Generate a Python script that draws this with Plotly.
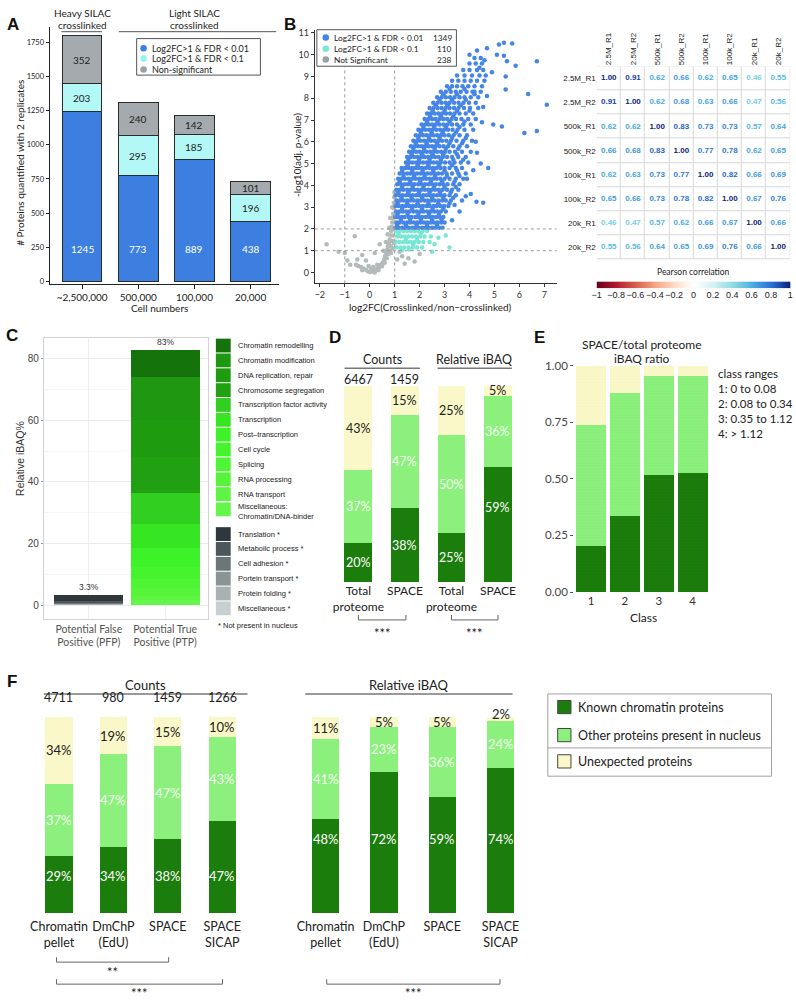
import plotly.graph_objects as go

W, H = 796, 1001
LATO = "Lato"
ARIAL = "Liberation Sans"


def PX(x):
    return x / W


def PY(y):
    return 1 - y / H


def XD(a, b):
    return [a / W, b / W]


def YD(top, bot):
    return [1 - bot / H, 1 - top / H]


# ======================= DATA =======================
# --- Panel A ---
A_cells = ["~2,500,000", "500,000", "100,000", "20,000"]
A_fdr001 = [1245, 773, 889, 438]
A_fdr01 = [203, 295, 185, 196]
A_nonsig = [352, 240, 142, 101]
A_series = ["Log2FC>1 &amp; FDR &lt; 0.01", "Log2FC>1 &amp; FDR &lt; 0.1", "Non-significant"]
A_yticks = [0, 250, 500, 750, 1000, 1250, 1500, 1750]

# --- Panel B volcano ---
B_series = ["Log2FC>1 &amp; FDR &lt; 0.01", "Log2FC>1 &amp; FDR &lt; 0.1", "Not Significant"]
B_counts = [1349, 110, 238]
B_xticks = [-2, -1, 0, 1, 2, 3, 4, 5, 6, 7]
B_yticks = [0, 1, 2, 3, 4, 5, 6, 7, 8, 9, 10, 11]

blue_rows = [
    (2.05, [1.03, 1.15, 1.3, 1.42, 1.55, 1.7, 1.82, 1.95, 2.1, 2.22, 2.36, 2.5, 2.63, 2.78, 2.92]),
    (2.18, [1.1, 1.45, 1.88, 2.3, 2.7]),
    (2.3, [1.08, 1.2, 1.35, 1.5, 1.62, 1.77, 1.9, 2.03, 2.17, 2.3, 2.45, 2.58, 2.72, 2.86, 3.0]),
    (2.43, [1.25, 1.62, 2.05, 2.5, 2.88]),
    (2.55, [1.02, 1.13, 1.27, 1.4, 1.56, 1.68, 1.83, 1.97, 2.1, 2.25, 2.38, 2.52, 2.66, 2.8, 2.95]),
    (2.68, [1.12, 1.52, 1.95, 2.38, 2.78]),
    (2.8, [1.06, 1.2, 1.33, 1.47, 1.6, 1.75, 1.88, 2.02, 2.15, 2.3, 2.44, 2.58, 2.7, 2.85, 3.05]),
    (2.93, [1.3, 1.7, 2.1, 2.52, 2.95]),
    (3.05, [1.03, 1.16, 1.3, 1.44, 1.58, 1.72, 1.85, 1.99, 2.13, 2.27, 2.4, 2.55, 2.68, 2.83, 2.98, 3.15]),
    (3.18, [1.12, 1.5, 1.92, 2.35, 2.75, 3.2]),
    (3.3, [1.08, 1.22, 1.36, 1.5, 1.63, 1.77, 1.91, 2.05, 2.2, 2.33, 2.47, 2.6, 2.75, 2.9, 3.05, 3.25, 3.7]),
    (3.43, [1.28, 1.68, 2.1, 2.5, 2.95, 3.35]),
    (3.55, [1.04, 1.18, 1.32, 1.46, 1.6, 1.73, 1.87, 2.0, 2.15, 2.28, 2.42, 2.56, 2.7, 2.85, 3.0, 3.2, 3.45]),
    (3.68, [1.15, 1.55, 1.98, 2.4, 2.82, 3.25]),
    (3.8, [1.07, 1.21, 1.35, 1.5, 1.64, 1.78, 1.92, 2.06, 2.2, 2.34, 2.48, 2.62, 2.77, 2.92, 3.1, 3.3, 3.55]),
    (3.93, [1.3, 1.72, 2.15, 2.58, 3.0, 3.45]),
    (4.05, [1.1, 1.25, 1.4, 1.53, 1.67, 1.8, 1.95, 2.08, 2.22, 2.36, 2.5, 2.65, 2.8, 2.95, 3.12, 3.35, 3.6]),
    (4.18, [1.2, 1.62, 2.02, 2.45, 2.9, 3.4]),
    (4.3, [1.14, 1.28, 1.42, 1.56, 1.7, 1.84, 1.98, 2.12, 2.26, 2.4, 2.54, 2.68, 2.83, 3.0, 3.2, 3.45, 3.75]),
    (4.43, [1.35, 1.78, 2.2, 2.62, 3.1, 3.6]),
    (4.55, [1.2, 1.35, 1.5, 1.63, 1.77, 1.9, 2.04, 2.18, 2.32, 2.46, 2.6, 2.75, 2.9, 3.08, 3.3, 3.55, 3.85]),
    (4.68, [1.3, 1.7, 2.12, 2.55, 3.0, 3.5]),
    (4.8, [1.28, 1.42, 1.56, 1.7, 1.84, 1.97, 2.1, 2.25, 2.4, 2.54, 2.68, 2.84, 3.0, 3.2, 3.45, 3.7]),
    (4.93, [1.52, 1.92, 2.35, 2.78, 3.3]),
    (5.05, [1.45, 1.58, 1.72, 1.86, 2.0, 2.14, 2.28, 2.42, 2.56, 2.7, 2.85, 3.02, 3.2, 3.4, 3.65, 3.95]),
    (5.18, [1.55, 1.98, 2.4, 2.85, 3.35, 3.75]),
    (5.3, [1.5, 1.64, 1.78, 1.92, 2.06, 2.2, 2.34, 2.48, 2.62, 2.77, 2.93, 3.1, 3.3, 3.55, 3.85]),
    (5.43, [1.68, 2.1, 2.52, 2.95, 3.5]),
    (5.55, [1.58, 1.72, 1.86, 2.0, 2.14, 2.28, 2.42, 2.56, 2.7, 2.86, 3.02, 3.2, 3.42, 3.7, 4.05]),
    (5.68, [1.75, 2.18, 2.6, 3.05, 3.55]),
    (5.8, [1.65, 1.8, 1.94, 2.08, 2.22, 2.36, 2.5, 2.64, 2.8, 2.96, 3.14, 3.35, 3.6, 3.9]),
    (5.93, [1.85, 2.28, 2.7, 3.2, 3.7]),
    (6.05, [1.75, 1.9, 2.04, 2.18, 2.32, 2.46, 2.6, 2.75, 2.9, 3.07, 3.25, 3.48, 3.75, 4.1]),
    (6.18, [1.95, 2.38, 2.8, 3.3, 3.85]),
    (6.3, [1.85, 2.0, 2.14, 2.28, 2.42, 2.56, 2.7, 2.85, 3.0, 3.17, 3.36, 3.6, 3.9]),
    (6.43, [2.05, 2.48, 2.92, 3.45]),
    (6.55, [1.95, 2.1, 2.24, 2.38, 2.52, 2.67, 2.82, 2.98, 3.14, 3.32, 3.52, 3.8, 4.15]),
    (6.68, [2.15, 2.58, 3.05, 3.6]),
    (6.8, [2.08, 2.22, 2.36, 2.5, 2.65, 2.8, 2.96, 3.12, 3.3, 3.5, 3.75, 4.05]),
    (6.93, [2.3, 2.72, 3.2, 3.8]),
    (7.05, [2.2, 2.35, 2.5, 2.64, 2.8, 2.95, 3.1, 3.28, 3.46, 3.68, 3.95, 4.25]),
    (7.18, [2.42, 2.85, 3.35]),
    (7.3, [2.3, 2.45, 2.6, 2.75, 2.9, 3.06, 3.22, 3.4, 3.6, 3.85, 4.15]),
    (7.43, [2.52, 3.0, 3.5, 4.0]),
    (7.55, [2.4, 2.56, 2.72, 2.88, 3.04, 3.2, 3.38, 3.56, 3.78, 4.02, 4.35]),
    (7.68, [2.65, 3.12, 3.65]),
    (7.8, [2.55, 2.72, 2.88, 3.04, 3.2, 3.38, 3.56, 3.76, 3.98, 4.25]),
    (7.93, [2.8, 3.3, 3.85]),
    (8.05, [2.7, 2.88, 3.05, 3.22, 3.4, 3.6, 3.8, 4.05, 4.35]),
    (8.18, [2.95, 3.5, 4.2]),
    (8.3, [2.85, 3.05, 3.25, 3.45, 3.65, 3.88, 4.12, 4.45]),
    (8.43, [3.2, 3.8]),
    (8.55, [3.1, 3.3, 3.5, 3.72, 3.95, 4.2, 4.5]),
    (8.8, [3.3, 3.55, 3.8, 4.05, 4.3, 4.6]),
    (9.05, [3.5, 3.8, 4.1, 4.4, 4.65]),
    (9.3, [3.75, 4.0, 4.3, 4.55]),
    (9.6, [4.0, 4.25, 4.5]),
    (9.85, [4.2, 4.45]),
    (10.2, [4.3]),
]
blue_extra = [(5.18, 10.47), (5.38, 10.55), (5.71, 10.52), (4.7, 10.3), (5.1, 10.0), (5.38, 9.95),
              (6.7, 9.7), (5.5, 9.7), (5.85, 9.5), (5.45, 9.0), (5.45, 8.4), (6.35, 8.2), (7.1, 7.7),
              (4.95, 6.8), (5.3, 6.7), (6.2, 6.4), (6.7, 6.5), (4.5, 6.9), (4.75, 4.8), (4.55, 3.2),
              (4.28, 3.25), (3.85, 3.5), (4.05, 3.6), (4.3, 5.5), (4.15, 4.7), (4.55, 7.6), (4.2, 8.3),
              (4.7, 8.1), (4.4, 9.4), (4.9, 9.2), (4.6, 9.75), (4.0, 10.0), (3.9, 4.3), (4.25, 6.0),
              (4.45, 5.0), (3.4, 3.1), (3.6, 2.8), (3.3, 2.4)]
cyan_rows = [
    (1.9, [1.05, 1.2, 1.35, 1.5, 1.65, 1.8, 1.95, 2.12, 2.3]),
    (1.65, [1.1, 1.25, 1.4, 1.55, 1.7, 1.85, 2.02, 2.2, 2.45]),
    (1.4, [1.05, 1.2, 1.35, 1.5, 1.65, 1.8, 1.97, 2.15, 2.4]),
    (1.15, [1.08, 1.23, 1.38, 1.55, 1.72, 1.9, 2.1]),
]
cyan_extra = [(2.75, 1.6), (3.05, 1.7), (3.2, 1.15), (2.5, 0.95), (2.6, 1.3), (1.3, 1.02), (1.6, 1.05),
              (1.15, 1.78), (1.45, 1.52), (1.75, 1.28), (2.05, 1.8), (1.9, 1.55)]
gray_pts = [(0.02, 0.02), (0.1, 0.05), (0.18, 0.08), (0.25, 0.12), (-0.08, 0.06), (-0.15, 0.12),
            (-0.25, 0.18), (-0.35, 0.25), (-0.45, 0.3), (-0.55, 0.35), (0.32, 0.18), (0.4, 0.25),
            (0.45, 0.35), (0.52, 0.45), (0.58, 0.6), (0.62, 0.75), (0.66, 0.9), (0.7, 1.05),
            (0.73, 1.2), (0.77, 1.35), (0.8, 1.5), (0.83, 1.7), (0.86, 1.9), (0.88, 2.1), (0.9, 2.3),
            (0.92, 2.5), (0.94, 2.7), (0.96, 2.95), (0.97, 3.2), (0.98, 3.45), (0.99, 3.7),
            (0.5, 0.3), (0.6, 0.45), (0.68, 0.65), (0.75, 0.85), (0.8, 1.0), (0.85, 1.2), (0.9, 1.45),
            (0.93, 1.7), (0.95, 2.0), (0.98, 2.3), (0.99, 2.6), (0.85, 0.9), (0.92, 1.1), (0.97, 1.35),
            (0.55, 1.0), (0.65, 1.4), (0.72, 1.75), (0.78, 2.05), (0.82, 2.5), (0.9, 3.0), (0.05, 0.2),
            (0.15, 0.25), (-0.05, 0.3), (0.3, 0.35), (0.35, 0.1), (0.2, 0.0), (-0.3, 0.1),
            (-1.73, 1.3), (-1.25, 0.95), (-1.0, 0.9), (-0.78, 0.35), (-0.6, 1.66), (-0.5, 0.6),
            (-0.9, 0.55), (-0.3, 0.8), (0.2, 0.9), (0.4, 1.3), (-0.15, 0.55), (1.1, 0.6), (1.3, 0.75),
            (1.55, 0.65), (1.8, 0.5), (1.4, 0.4), (2.0, 0.85), (1.2, 0.95)]

# --- Panel B correlation matrix ---
corr_labels = ["2.5M_R1", "2.5M_R2", "500k_R1", "500k_R2", "100k_R1", "100k_R2", "20k_R1", "20k_R2"]
corr = [
    [1.00, 0.91, 0.62, 0.66, 0.62, 0.65, 0.46, 0.55],
    [0.91, 1.00, 0.62, 0.68, 0.63, 0.66, 0.47, 0.56],
    [0.62, 0.62, 1.00, 0.83, 0.73, 0.73, 0.57, 0.64],
    [0.66, 0.68, 0.83, 1.00, 0.77, 0.78, 0.62, 0.65],
    [0.62, 0.63, 0.73, 0.77, 1.00, 0.82, 0.66, 0.69],
    [0.65, 0.66, 0.73, 0.78, 0.82, 1.00, 0.67, 0.76],
    [0.46, 0.47, 0.57, 0.62, 0.66, 0.67, 1.00, 0.66],
    [0.55, 0.56, 0.64, 0.65, 0.69, 0.76, 0.66, 1.00],
]
cbar_tickvals = [-1, -0.8, -0.6, -0.4, -0.2, 0, 0.2, 0.4, 0.6, 0.8, 1]
cbar_ticktext = ["−1", "−0.8", "−0.6", "−0.4", "−0.2", "0", "0.2", "0.4", "0.6", "0.8", "1"]

# --- Panel C ---
C_cats = ["Potential False<br>Positive (PFP)", "Potential True<br>Positive (PTP)"]
C_chrom_names = ["Chromatin remodelling", "Chromatin modification", "DNA replication, repair",
                 "Chromosome segregation", "Transcription factor activity", "Transcription",
                 "Post–transcription", "Cell cycle", "Splicing", "RNA processing", "RNA transport",
                 "Miscellaneous:<br>Chromatin/DNA-binder"]
C_chrom_ptp = [9.0, 14.0, 12.0, 11.5, 10.0, 8.0, 6.0, 4.0, 3.0, 2.5, 1.5, 1.5]
C_other_names = ["Translation *", "Metabolic process *", "Cell adhesion *", "Portein transport *",
                 "Protein folding *", "Miscellaneous *"]
C_other_pfp = [1.9, 0.6, 0.3, 0.2, 0.15, 0.15]
C_yticks = [0, 20, 40, 60, 80]

# --- Panel D ---
D_labels = ["Total<br>proteome", "SPACE", "Total<br>proteome", "SPACE"]
D_known = [20, 38, 25, 59]
D_other = [37, 47, 50, 36]
D_unexp = [43, 15, 25, 5]
D_counts = [6467, 1459]

# --- Panel E ---
E_class = ["1", "2", "3", "4"]
E_known = [0.204, 0.334, 0.518, 0.525]
E_other = [0.532, 0.543, 0.436, 0.429]
E_unexp = [0.264, 0.123, 0.046, 0.046]
E_ranges = ["class ranges", "1: 0 to 0.08", "2: 0.08 to 0.34", "3: 0.35 to 1.12", "4: &gt; 1.12"]

# --- Panel F ---
F_methods = ["Chromatin<br>pellet", "DmChP<br>(EdU)", "SPACE", "SPACE<br>SICAP"]
F_count_n = [4711, 980, 1459, 1266]
F_count_known = [29, 34, 38, 47]
F_count_other = [37, 47, 47, 43]
F_count_unexp = [34, 19, 15, 10]
F_ibaq_known = [48, 72, 59, 74]
F_ibaq_other = [41, 23, 36, 24]
F_ibaq_unexp = [11, 5, 5, 2]
F_legend = ["Known chromatin proteins", "Other proteins present in nucleus", "Unexpected proteins"]

# ======================= STYLE =======================
BLUE, CYAN, GRAY = "#3d7fe0", "#b2f8f6", "#a4aaae"
DOT_BLUE, DOT_CYAN, DOT_GRAY = "#4585e6", "#78e8d4", "#b3baba"
KNOWN, OTHER, UNEXP = "#1b7d0b", "#8cf07d", "#faf8c8"
C_chrom_colors = ["#15730b", "#1e9810", "#1f9b10", "#21a011", "#30cf20", "#37e622", "#3ef22a",
                  "#46f42e", "#4ef535", "#56f53b", "#5ef542", "#66f54a"]
C_other_colors = ["#2e383c", "#4b575b", "#6a7676", "#899494", "#a9b1b1", "#c9cfcf"]
corr_scale = [(0.0, "#67001f"), (0.1, "#b2182b"), (0.2, "#d6604d"), (0.3, "#f4a582"), (0.4, "#fddbc7"),
              (0.5, "#ffffff"), (0.6, "#d4f1f4"), (0.7, "#8fdbe3"), (0.8, "#4ab0e0"), (0.9, "#2a6fd6"),
              (1.0, "#0b1f7a")]


def hex2rgb(h):
    h = h.lstrip("#")
    return tuple(int(h[i:i + 2], 16) for i in (0, 2, 4))


def scale_color(t):
    for (t0, c0), (t1, c1) in zip(corr_scale[:-1], corr_scale[1:]):
        if t0 <= t <= t1:
            f = (t - t0) / (t1 - t0) if t1 > t0 else 0
            a, b = hex2rgb(c0), hex2rgb(c1)
            return "rgb(%d,%d,%d)" % tuple(round(a[k] + (b[k] - a[k]) * f) for k in range(3))
    return corr_scale[-1][1]


fig = go.Figure()
annotations = []
shapes = []


def ann(x, y, text, size=12, color="#222", family=LATO, xanchor="center", yanchor="middle", **kw):
    annotations.append(dict(x=PX(x), y=PY(y), xref="paper", yref="paper", text=text, showarrow=False,
                            font=dict(family=family, size=size, color=color), xanchor=xanchor,
                            yanchor=yanchor, **kw))


def dann(xref, yref, x, y, text, size=12, color="#222", family=LATO, **kw):
    annotations.append(dict(x=x, y=y, xref=xref, yref=yref, text=text, showarrow=False,
                            font=dict(family=family, size=size, color=color), **kw))


def line(x0, y0, x1, y1, color="#555", width=1):
    shapes.append(dict(type="line", xref="paper", yref="paper", x0=PX(x0), y0=PY(y0), x1=PX(x1), y1=PY(y1),
                       line=dict(color=color, width=width)))


def rect(x0, y0, x1, y1, fill="rgba(0,0,0,0)", lc="#444", lw=1):
    shapes.append(dict(type="rect", xref="paper", yref="paper", x0=PX(x0), y0=PY(y1), x1=PX(x1),
                       y1=PY(y0), fillcolor=fill, line=dict(color=lc, width=lw)))


def circle(cx, cy, r, fill):
    shapes.append(dict(type="circle", xref="paper", yref="paper", x0=PX(cx - r), x1=PX(cx + r),
                       y0=PY(cy + r), y1=PY(cy - r), fillcolor=fill, line=dict(width=0)))


def bracket(x1, x2, yl, h=5, color="#666"):
    shapes.append(dict(type="path", xref="paper", yref="paper",
                       path="M %f,%f L %f,%f L %f,%f L %f,%f" % (PX(x1), PY(yl - h), PX(x1), PY(yl),
                                                                 PX(x2), PY(yl), PX(x2), PY(yl - h)),
                       line=dict(color=color, width=1)))


# ======================= PANEL A =======================
for vals, col in zip([A_fdr001, A_fdr01, A_nonsig], [BLUE, CYAN, GRAY]):
    fig.add_trace(go.Bar(x=A_cells, y=vals, width=0.705, xaxis="x", yaxis="y",
                         marker=dict(color=col, line=dict(color="#2b2b2b", width=1)), showlegend=False))
for c, a, b, g in zip(A_cells, A_fdr001, A_fdr01, A_nonsig):
    dann("x", "y", c, 240, str(a), size=10, color="white")
    dann("x", "y", c, a + b / 2, str(b), size=10, color="#222")
    dann("x", "y", c, a + b + g / 2, str(g), size=10, color="#222")

ann(8.5, 18, "<b>A</b>", size=17, family=ARIAL, color="#111")
ann(78, 6.5, "Heavy SILAC", size=10)
ann(78, 18.5, "crosslinked", size=10)
ann(191, 6.5, "Light SILAC", size=10)
ann(191, 18.5, "crosslinked", size=10)
line(57, 25, 98, 25, color="#555")
line(115, 25, 274, 25, color="#555")
rect(133, 32, 258, 69, fill="white", lc="#555")
for cy, col, txt in zip([41.7, 52.3, 63.3], [BLUE, "#8ff5ee", "#9aa0a4"], A_series):
    circle(140, cy, 3.3, col)
    ann(146, cy, txt, size=9, xanchor="left")
ann(15, 158, "# Proteins quantified with 2 replicates", size=10, textangle=-90)
ann(156, 305, "Cell numbers", size=10)

# ======================= PANEL B volcano =======================
gray_x = [p[0] for p in gray_pts]
gray_y = [p[1] for p in gray_pts]
cyan_x = [x for y, xs in cyan_rows for x in xs] + [p[0] for p in cyan_extra]
cyan_y = [y for y, xs in cyan_rows for _ in xs] + [p[1] for p in cyan_extra]
blue_x = [x for y, xs in blue_rows for x in xs] + [p[0] for p in blue_extra]
blue_y = [y for y, xs in blue_rows for _ in xs] + [p[1] for p in blue_extra]
for xs, ys, col in [(gray_x, gray_y, DOT_GRAY), (cyan_x, cyan_y, DOT_CYAN), (blue_x, blue_y, DOT_BLUE)]:
    fig.add_trace(go.Scatter(x=xs, y=ys, mode="markers", xaxis="x2", yaxis="y2", showlegend=False,
                             marker=dict(size=4.5, color=col, line=dict(width=0))))
for xv in [-1, 1]:
    shapes.append(dict(type="line", xref="x2", yref="y2", x0=xv, x1=xv, y0=-0.5, y1=11.15,
                       line=dict(color="#9a9a9a", width=1, dash="dot")))
for yv in [1, 2]:
    shapes.append(dict(type="line", xref="x2", yref="y2", x0=-2.2, x1=7.5, y0=yv, y1=yv,
                       line=dict(color="#9a9a9a", width=1, dash="dot")))
ann(288, 18, "<b>B</b>", size=17, family=ARIAL, color="#111")
rect(315, 23, 456, 60, fill="white", lc="#555")
for cy, col, txt, n in zip([31, 42.3, 53.3], [DOT_BLUE, DOT_CYAN, "#9aa0a0"], B_series, B_counts):
    circle(324, cy, 3.3, col)
    ann(330.7, cy, txt, size=8.3, xanchor="left")
    ann(454, cy, str(n), size=8.3, xanchor="right")
ann(295, 150, "-log10(adj. p-value)", size=10, textangle=-90)
ann(430, 304, "log2FC(Crosslinked/non−crosslinked)", size=10)

# ======================= PANEL B matrix =======================
shapes.append(dict(type="rect", xref="x3", yref="y3", x0=-0.5, x1=7.5, y0=-0.5, y1=7.5,
                   fillcolor="#d8d8d8", line=dict(width=0), layer="below"))
fig.add_trace(go.Heatmap(z=corr, x=list(range(8)), y=list(range(8)), xaxis="x3", yaxis="y3",
                         colorscale=[[0, "white"], [1, "white"]], showscale=False, xgap=1, ygap=1,
                         hoverinfo="skip"))
mx, my, mt, mc = [], [], [], []
for i, row in enumerate(corr):
    for j, v in enumerate(row):
        mx.append(j)
        my.append(i)
        mt.append("<b>%.2f</b>" % v)
        mc.append(scale_color((v + 1) / 2))
fig.add_trace(go.Scatter(x=mx, y=my, text=mt, mode="text", xaxis="x3", yaxis="y3", showlegend=False,
                         textfont=dict(family=ARIAL, size=8, color=mc)))
grad = [i / 100 - 1 for i in range(201)]
fig.add_trace(go.Heatmap(z=[grad], x=grad, y=[0], xaxis="x4", yaxis="y4", showscale=False,
                         colorscale=[[t, c] for t, c in corr_scale], zmin=-1, zmax=1, hoverinfo="skip"))
ann(695, 268, "Pearson correlation", size=8.5)

# ======================= PANEL C =======================
for i in reversed(range(len(C_other_pfp))):
    fig.add_trace(go.Bar(x=[0, 1], y=[C_other_pfp[i], 0], width=0.9, xaxis="x5", yaxis="y5",
                         marker=dict(color=C_other_colors[i], line=dict(width=0)), showlegend=False))
for i in reversed(range(len(C_chrom_ptp))):
    fig.add_trace(go.Bar(x=[0, 1], y=[0, C_chrom_ptp[i]], width=0.9, xaxis="x5", yaxis="y5",
                         marker=dict(color=C_chrom_colors[i], line=dict(width=0)), showlegend=False))
tot_pfp = round(sum(C_other_pfp), 1)
tot_ptp = round(sum(C_chrom_ptp), 1)
dann("x5", "y5", 0, tot_pfp, "%g%%" % tot_pfp, size=8.5, family=ARIAL, color="#333", yanchor="bottom", yshift=1)
dann("x5", "y5", 1, tot_ptp, "%g%%" % tot_ptp, size=8.5, family=ARIAL, color="#333", yanchor="bottom", yshift=1)
ann(7, 333, "<b>C</b>", size=17, family=ARIAL, color="#111")
ann(15, 457, "Relative iBAQ%", size=10.5, family=ARIAL, color="#333", textangle=-90)
chrom_rows = [343 + 15.05 * i for i in range(11)] + [509]
for cy, col, name in zip(chrom_rows, C_chrom_colors, C_chrom_names):
    rect(213, cy - 7, 228, cy + 7, fill=col, lc=col, lw=0)
    ann(233, cy + (2 if "<br>" in name else 0), name, size=7.5, family=ARIAL, color="#1a1a1a",
        xanchor="left", align="left")
other_rows = [534 + 15.05 * i for i in range(6)]
for cy, col, name in zip(other_rows, C_other_colors, C_other_names):
    rect(213, cy - 7, 228, cy + 7, fill=col, lc=col, lw=0)
    ann(233, cy, name, size=7.5, family=ARIAL, color="#1a1a1a", xanchor="left")
ann(213, 627, "* Not present in nucleus", size=7.5, family=ARIAL, color="#1a1a1a", xanchor="left")


# ======================= stacked helper =======================
def stacked(xa, ya, xs, known, other, unexp, width, dark_fixed, size=12.5):
    for vals, col in zip([known, other, unexp], [KNOWN, OTHER, UNEXP]):
        fig.add_trace(go.Bar(x=xs, y=vals, width=width, xaxis=xa, yaxis=ya, showlegend=False,
                             marker=dict(color=col, line=dict(width=0))))
    for i, k, o, u in zip(xs, known, other, unexp):
        ky = dark_fixed if dark_fixed < 0.8 * k else k / 2
        dann(xa, ya, i, ky, "%d%%" % k, size=size, color="white")
        dann(xa, ya, i, k + o / 2, "%d%%" % o, size=size, color="#f4fff2")
        if u < 4:
            dann(xa, ya, i, k + o + u, "%d%%" % u, size=size, color="#222", yshift=3)
        else:
            dann(xa, ya, i, k + o + u / 2, "%d%%" % u, size=size, color="#222")


# ======================= PANEL D =======================
stacked("x6", "y6", [0, 1], D_known[:2], D_other[:2], D_unexp[:2], 0.6, 19, size=12.5)
stacked("x6", "y6", [2, 3], D_known[2:], D_other[2:], D_unexp[2:], 0.6, 38, size=12.5)
for i, n in enumerate(D_counts):
    annotations.append(dict(x=i, y=PY(377), xref="x6", yref="paper", text=str(n), showarrow=False,
                            font=dict(family=LATO, size=12.5, color="#222")))
ann(333, 335, "<b>D</b>", size=17, family=ARIAL, color="#111")
ann(381, 357, "Counts", size=12.5)
line(343, 366, 419, 366, color="#777", width=1.5)
ann(474, 357, "Relative iBAQ", size=12.5)
line(437, 366, 512, 366, color="#777", width=1.5)
bracket(357, 405, 621)
bracket(451, 498, 621)
ann(381, 634, "***", size=13)
ann(474.5, 634, "***", size=13)

# ======================= PANEL E =======================
for vals, col, fg in zip([E_known, E_other, E_unexp], [KNOWN, OTHER, UNEXP], ["#0f6a05", "#74e066", "#f0eebb"]):
    fig.add_trace(go.Bar(x=list(range(4)), y=vals, width=0.89, xaxis="x7", yaxis="y7", showlegend=False,
                         marker=dict(color=col, line=dict(width=0),
                                     pattern=dict(shape="-", size=3, solidity=0.2, fgcolor=fg,
                                                  bgcolor=col, fgopacity=0.45))))
ann(540, 335, "<b>E</b>", size=17, family=ARIAL, color="#111")
ann(643, 342, "SPACE/total proteome", size=12)
ann(643, 356, "iBAQ ratio", size=12)
for k, txt in enumerate(E_ranges):
    ann(718, 371.7 + 15 * k, txt, size=11.5, xanchor="left")
ann(645, 619, "Class", size=12)

# ======================= PANEL F =======================
stacked("x8", "y8", [0, 1, 2, 3], F_count_known, F_count_other, F_count_unexp, 0.5, 19, size=13)
stacked("x9", "y9", [0, 1, 2, 3], F_ibaq_known, F_ibaq_other, F_ibaq_unexp, 0.47, 38, size=13)
for i, n in enumerate(F_count_n):
    annotations.append(dict(x=i, y=PY(709), xref="x8", yref="paper", text=str(n), showarrow=False,
                            font=dict(family=LATO, size=12.5, color="#222")))
ann(7, 683, "<b>F</b>", size=17, family=ARIAL, color="#111")
ann(141.7, 686.5, "Counts", size=13)
line(39.3, 696, 245, 696, color="#777", width=1.5)
ann(408, 686.5, "Relative iBAQ", size=13)
line(303.3, 696, 512.7, 696, color="#777", width=1.5)
bracket(52, 165.3, 967.7)
ann(108.5, 978, "**", size=13)
bracket(52, 219.7, 990)
ann(136, 998.5, "***", size=13)
bracket(325, 500, 990)
ann(412.5, 998.5, "***", size=13)
# legend F
rect(548.3, 696, 774.3, 779.3, lc="#a0a0a0")
line(548.3, 750.7, 774.3, 750.7, color="#a0a0a0")
for cy, col, txt in zip([709.3, 737.7, 764.3], [KNOWN, OTHER, UNEXP], F_legend):
    rect(558.3, cy - 6.7, 571.7, cy + 6.7, fill=col, lc="#444", lw=1)
    ann(576.7, cy, txt, size=12.5, xanchor="left")


# ======================= LAYOUT =======================
def hidden_y(domain, rng):
    return dict(domain=domain, range=rng, visible=False, fixedrange=True)


layout = dict(
    width=W, height=H, margin=dict(l=0, r=0, t=0, b=0), paper_bgcolor="white", plot_bgcolor="white",
    barmode="stack", showlegend=False, font=dict(family=LATO, color="#222"),
    annotations=annotations, shapes=shapes, hovermode=False,
    # A
    xaxis=dict(domain=XD(45, 277), anchor="y", range=[-0.58, 3.51], type="category", showline=True,
               linecolor="#222", ticks="outside", ticklen=4, tickcolor="#222", showgrid=False,
               zeroline=False, tickfont=dict(family=LATO, size=10, color="#222")),
    yaxis=dict(domain=YD(20, 281), anchor="x", range=[-22, 1865], showline=True, linecolor="#222",
               ticks="outside", ticklen=3, tickcolor="#222", tickvals=A_yticks, showgrid=False,
               zeroline=False, tickfont=dict(family=LATO, size=7.5, color="#222")),
    # B volcano
    xaxis2=dict(domain=XD(313, 557.4), anchor="y2", range=[-2.2, 7.5], showline=True, linecolor="#333",
                ticks="outside", ticklen=3, tickcolor="#333", tickvals=B_xticks,
                ticktext=[("−%d" % -v) if v < 0 else str(v) for v in B_xticks], showgrid=False,
                zeroline=False, tickfont=dict(family=LATO, size=9, color="#333")),
    yaxis2=dict(domain=YD(23, 280), anchor="x2", range=[-0.5, 11.15], showline=True, linecolor="#333",
                ticks="outside", ticklen=3, tickcolor="#333", tickvals=B_yticks, showgrid=False,
                zeroline=False, tickfont=dict(family=LATO, size=9, color="#333")),
    # B matrix
    xaxis3=dict(domain=XD(597.7, 793.3), anchor="y3", range=[-0.5, 7.5], side="top", tickangle=-90,
                tickvals=list(range(8)), ticktext=corr_labels, showgrid=False, zeroline=False,
                showline=False, ticks="", tickfont=dict(family=ARIAL, size=8, color="#222")),
    yaxis3=dict(domain=YD(60, 255.7), anchor="x3", range=[7.5, -0.5], tickvals=list(range(8)),
                ticktext=corr_labels, showgrid=False, zeroline=False, showline=False, ticks="",
                tickfont=dict(family=ARIAL, size=8, color="#222")),
    # colour bar
    xaxis4=dict(domain=XD(597.7, 793.3), anchor="y4", range=[-1, 1], tickvals=cbar_tickvals,
                ticktext=cbar_ticktext, tickangle=0, showgrid=False, zeroline=False, showline=False,
                ticks="", tickfont=dict(family=ARIAL, size=9, color="#222")),
    yaxis4=hidden_y(YD(278, 285), [-0.5, 0.5]),
    # C
    xaxis5=dict(domain=XD(39.3, 205), anchor="y5", range=[-0.588, 1.56], tickvals=[0, 1], ticktext=C_cats,
                showline=True, mirror=True, linecolor="#d2d2d2", showgrid=True, gridcolor="#eeeeee",
                zeroline=False, ticks="", tickfont=dict(family=LATO, size=10.5, color="#555")),
    yaxis5=dict(domain=YD(335, 620), anchor="x5", range=[-4.5, 86.9], tickvals=C_yticks, showline=True,
                mirror=True, linecolor="#d2d2d2", showgrid=True, gridcolor="#ebebeb", zeroline=False,
                ticks="outside", ticklen=2, tickcolor="#999",
                minor=dict(dtick=10, showgrid=True, gridcolor="#f6f6f6"),
                tickfont=dict(family=ARIAL, size=10, color="#444")),
    # D
    xaxis6=dict(domain=XD(333.5, 521.5), anchor="y6", range=[-0.5, 3.5], tickvals=[0, 1, 2, 3],
                ticktext=D_labels, showgrid=False, zeroline=False, showline=False, ticks="",
                tickfont=dict(family=LATO, size=12, color="#222")),
    yaxis6=hidden_y(YD(384, 583), [0, 100]),
    # E
    xaxis7=dict(domain=XD(574.9, 711.8), anchor="y7", range=[-0.5, 3.5], tickvals=[0, 1, 2, 3],
                ticktext=E_class, showgrid=False, zeroline=False, showline=False, ticks="",
                tickfont=dict(family=LATO, size=11.5, color="#333")),
    yaxis7=dict(domain=YD(363.3, 592.7), anchor="x7", range=[0, 1], tickvals=[0, 0.25, 0.5, 0.75, 1],
                ticktext=["0.00", "0.25", "0.50", "0.75", "1.00"], showgrid=False, zeroline=False,
                showline=False, ticks="outside", ticklen=3, tickcolor="#555",
                tickfont=dict(family=LATO, size=11.5, color="#444")),
    # F
    xaxis8=dict(domain=XD(27, 247), anchor="y8", range=[-0.5, 3.5], tickvals=[0, 1, 2, 3],
                ticktext=F_methods, showgrid=False, zeroline=False, showline=False, ticks="",
                ticklabelstandoff=4, tickfont=dict(family=LATO, size=12.5, color="#222")),
    yaxis8=hidden_y(YD(719.3, 918.3), [0, 100]),
    xaxis9=dict(domain=XD(294.4, 530), anchor="y9", range=[-0.5, 3.5], tickvals=[0, 1, 2, 3],
                ticktext=F_methods, showgrid=False, zeroline=False, showline=False, ticks="",
                ticklabelstandoff=4, tickfont=dict(family=LATO, size=12.5, color="#222")),
    yaxis9=hidden_y(YD(719.3, 918.3), [0, 100]),
)
fig.update_layout(**layout)
fig.write_html("out.html", config={"displayModeBar": False, "staticPlot": True},
               post_script="document.body.style.margin='0px';document.body.style.overflow='hidden';")
